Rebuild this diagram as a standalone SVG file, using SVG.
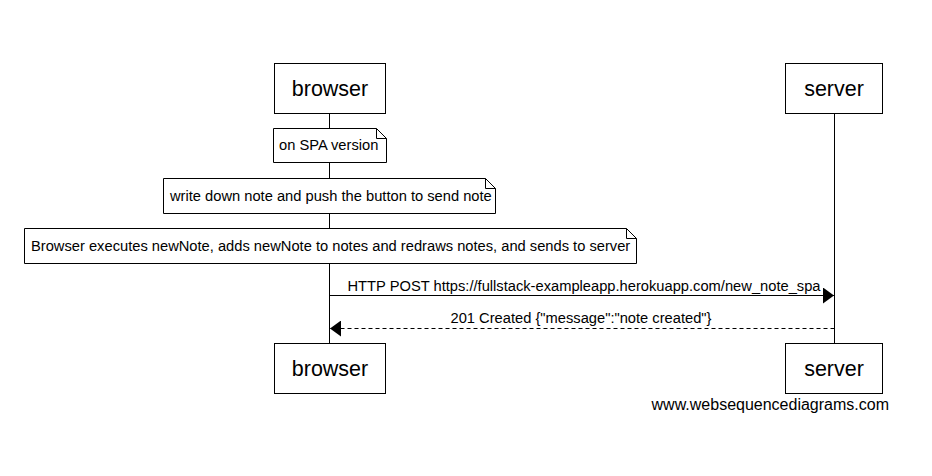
<svg xmlns="http://www.w3.org/2000/svg" width="932" height="476" viewBox="0 0 932 476">
<style>
.box{fill:#fff;stroke:#000;stroke-width:1}
.life{stroke:#000;stroke-width:1;fill:none}
.actor{font-family:"Liberation Sans",Arial,sans-serif;font-size:21.5px;fill:#000;text-anchor:middle}
.t{font-family:"Liberation Sans",Arial,sans-serif;font-size:14.7px;fill:#000}
.wm{font-family:"Liberation Sans",Arial,sans-serif;font-size:16px;fill:#000;text-anchor:end}
.msg{stroke:#000;stroke-width:1;fill:none}
</style>
<defs>
<marker id="ah" viewBox="0 0 11 16" refX="11" refY="8" markerWidth="11" markerHeight="16" markerUnits="userSpaceOnUse" orient="auto">
<path d="M0,0 L11,8 L0,16 Z" fill="#000"/>
</marker>
</defs>
<rect width="932" height="476" fill="#fff"/>
<g id="connectors">
<line class="life" x1="329.5" y1="113" x2="329.5" y2="343"/>
<line class="life" x1="834.5" y1="113" x2="834.5" y2="343"/>
<line class="msg" x1="329.5" y1="295.5" x2="834" y2="295.5" marker-end="url(#ah)"/>
<text class="t" x="584" y="291" text-anchor="middle">HTTP POST https://fullstack-exampleapp.herokuapp.com/new_note_spa</text>
<line class="msg" x1="834.5" y1="328.5" x2="330" y2="328.5" stroke-dasharray="4,3" marker-end="url(#ah)"/>
<text class="t" x="581" y="323" text-anchor="middle">201 Created {"message":"note created"}</text>
</g>
<g id="browser-top">
<rect class="box" x="274.5" y="63.5" width="111" height="50"/>
<text class="actor" x="330" y="96">browser</text>
</g>
<g id="server-top">
<rect class="box" x="785.5" y="63.5" width="97" height="50"/>
<text class="actor" x="834" y="96">server</text>
</g>
<g id="note1">
<path class="box" d="M273.5,128.5 H376.5 L386.5,138.5 V162.5 H273.5 Z"/>
<path class="life" d="M376.5,128.5 V138.5 H386.5"/>
<text class="t" x="279" y="150">on SPA version</text>
</g>
<g id="note2">
<path class="box" d="M163.5,178.5 H485.5 L495.5,188.5 V213.5 H163.5 Z"/>
<path class="life" d="M485.5,178.5 V188.5 H495.5"/>
<text class="t" x="170" y="201">write down note and push the button to send note</text>
</g>
<g id="note3">
<path class="box" d="M24.5,228.5 H626.5 L636.5,238.5 V263.5 H24.5 Z"/>
<path class="life" d="M626.5,228.5 V238.5 H636.5"/>
<text class="t" x="31" y="251">Browser executes newNote, adds newNote to notes and redraws notes, and sends to server</text>
</g>
<g id="browser-bottom">
<rect class="box" x="274.5" y="343.5" width="111" height="50"/>
<text class="actor" x="330" y="376">browser</text>
</g>
<g id="server-bottom">
<rect class="box" x="785.5" y="343.5" width="97" height="50"/>
<text class="actor" x="834" y="376">server</text>
</g>
<text class="wm" x="889" y="410">www.websequencediagrams.com</text>
</svg>
